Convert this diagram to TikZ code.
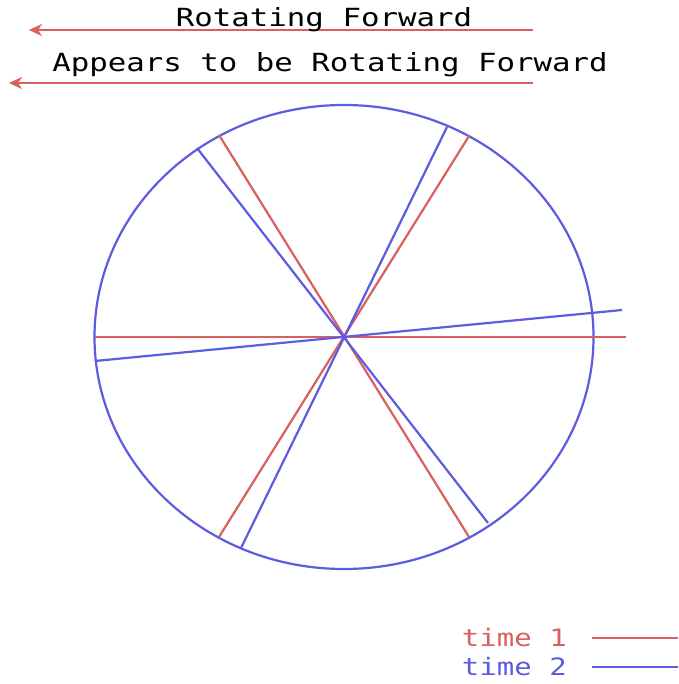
\documentclass[tikz,border=0pt]{standalone}
\usepackage{fontspec}
\setmonofont{DejaVu Sans Mono}
\usetikzlibrary{arrows.meta}
\definecolor{wred}{RGB}{218,96,96}
\definecolor{wblue}{RGB}{92,92,224}
\tikzset{
  redline/.style={draw=wred,line width=2.2pt},
  blueline/.style={draw=wblue,line width=2.2pt},
  titletext/.style={font=\ttfamily\fontsize{25}{27}\selectfont,xscale=1.23,inner sep=0pt,anchor=base},
  legtext/.style={font=\ttfamily\fontsize{24}{26}\selectfont,xscale=1.21,inner sep=0pt,anchor=base east},
  arrowtip/.style={-{Stealth[length=13pt,width=12pt,inset=4pt]}}
}
\begin{document}
\begin{tikzpicture}[x=1pt,y=-1pt]
\useasboundingbox (0,0) rectangle (678,684);
\fill[white] (0,0) rectangle (678,684);
% titles and arrows
\coordinate (a1s) at (533,30);
\coordinate (a1e) at (29,30);
\coordinate (a2s) at (533,83);
\coordinate (a2e) at (9,83);
\draw[redline,arrowtip] (a1s) -- (a1e);
\draw[redline,arrowtip] (a2s) -- (a2e);
\node[titletext] (t1) at (324,27) {Rotating Forward};
\node[titletext] (t2) at (330,72) {Appears to be Rotating Forward};
% wheel
\coordinate (c) at (344,337);
\draw[blueline] (c) ellipse [x radius=249.5, y radius=232];
% time 1 spokes (red)
\draw[redline] (95,337) -- (626,337);
\draw[redline] (219,135) -- (469,537);
\draw[redline] (469,136) -- (219,537);
% time 2 spokes (blue)
\draw[blueline] (95,361) -- (622,310);
\draw[blueline] (197,148) -- (488,523);
\draw[blueline] (447,127) -- (241,548);
% legend
\node[legtext,text=wred] (l1) at (567,646) {time 1};
\node[legtext,text=wblue] (l2) at (567,675) {time 2};
\coordinate (l1a) at (592,638);
\coordinate (l1b) at (678,638);
\coordinate (l2a) at (592,667);
\coordinate (l2b) at (678,667);
\draw[redline] (l1a) -- (l1b);
\draw[blueline] (l2a) -- (l2b);
\end{tikzpicture}
\end{document}
